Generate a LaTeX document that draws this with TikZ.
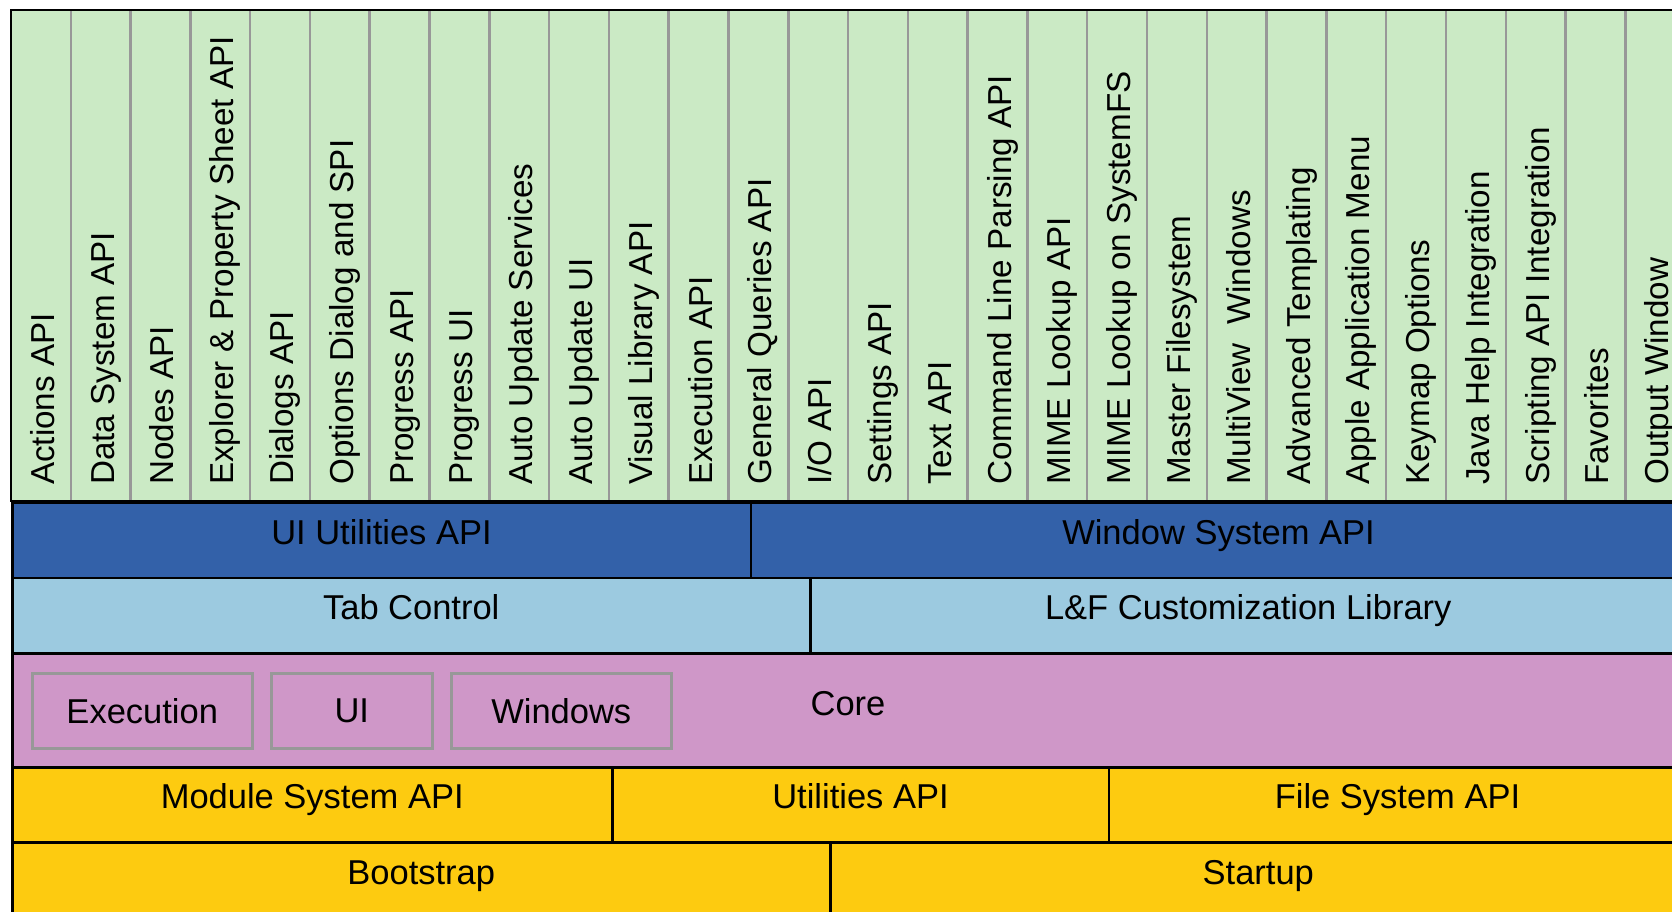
\documentclass[tikz,border=0pt]{standalone}
\usepackage{fontspec}
\setmainfont{Liberation Sans}
\definecolor{gfill}{RGB}{203,234,197}
\definecolor{dblue}{RGB}{51,97,169}
\definecolor{lblue}{RGB}{156,202,224}
\definecolor{pinkc}{RGB}{207,151,200}
\definecolor{yell}{RGB}{253,203,16}
\definecolor{divgray}{RGB}{152,152,152}
\begin{document}
\begin{tikzpicture}[x=1pt,y=-1pt,
  rowcell/.style={draw=black, line width=2.5pt, anchor=north west, inner sep=0pt,
    font=\fontsize{34.5}{40}\selectfont, text height=0.8em, text depth=0em},
  innerbox/.style={draw=divgray, line width=2.5pt, fill=pinkc, anchor=north west, inner sep=0pt,
    font=\fontsize{34.5}{40}\selectfont},
  collabel/.style={rotate=90, anchor=base west, inner sep=0pt, font=\fontsize{33.2}{40}\selectfont},
  divider/.style={draw=divgray, line width=2.5pt},
  sepline/.style={draw=black, line width=2.5pt}]
\useasboundingbox (0,0) rectangle (1672,911);
\fill[white] (0,0) rectangle (1672,911);
\clip (0,0) rectangle (1672,911);
% green column band
\fill[gfill] (11,10) rectangle (1685,501);
\foreach \i in {1,...,27}{
  \draw[divider] ({11+\i*59.79},10) -- ({11+\i*59.79},501);
}
\foreach \lab [count=\k from 0] in {Actions API, Data System API, Nodes API,
  Explorer \& Property Sheet API, Dialogs API, Options Dialog and SPI, Progress API,
  Progress UI, Auto Update Services, Auto Update UI, Visual Library API, Execution API,
  General Queries API, I/O API, Settings API, Text API, Command Line Parsing API,
  MIME Lookup API, MIME Lookup on SystemFS, Master Filesystem, MultiView\ \ Windows,
  Advanced Templating, Apple Application Menu, Keymap Options, Java Help Integration,
  Scripting API Integration, Favorites, Output Window}{
  \pgfmathsetmacro{\cx}{11+(\k+0.5)*59.79+13.5}
  \node[collabel] (col\k) at (\cx,485) {\lab};
}
% layers
\node[rowcell, fill=dblue, minimum width=738.5pt, minimum height=75.5pt] (uiutil) at (11,501) {UI Utilities API};
\node[rowcell, fill=dblue, minimum width=935.5pt, minimum height=75.5pt] (winsys) at (749.5,501) {Window System API};
\node[rowcell, fill=lblue, minimum width=798pt, minimum height=75.5pt] (tabctl) at (11,576.5) {Tab Control};
\node[rowcell, fill=lblue, minimum width=876pt, minimum height=75.5pt] (lnf) at (809,576.5) {L\&F Customization Library};
\node[rowcell, fill=pinkc, minimum width=1674pt, minimum height=114pt] (core) at (11,652) {};
\node[font=\fontsize{34.5}{40}\selectfont, inner sep=0pt] (corelab) at (848,704) {Core};
\node[innerbox, minimum width=220pt, minimum height=75pt] (exec) at (31,672) {Execution};
\node[innerbox, minimum width=161pt, minimum height=75pt] (ui) at (270,672) {UI};
\node[innerbox, minimum width=220pt, minimum height=75pt] (win) at (450,672) {Windows};
\node[rowcell, fill=yell, minimum width=600pt, minimum height=75pt] (modsys) at (11,766) {Module System API};
\node[rowcell, fill=yell, minimum width=496.5pt, minimum height=75pt] (utilapi) at (611,766) {Utilities API};
\node[rowcell, fill=yell, minimum width=577.5pt, minimum height=75pt] (fsapi) at (1107.5,766) {File System API};
\node[rowcell, fill=yell, minimum width=818pt, minimum height=76pt] (boot) at (11,841) {Bootstrap};
\node[rowcell, fill=yell, minimum width=856pt, minimum height=76pt] (startup) at (829,841) {Startup};
% outer border of column band
\draw[sepline] (1685,10) -- (11,10) -- (11,501) -- (1685,501);
\end{tikzpicture}
\end{document}
